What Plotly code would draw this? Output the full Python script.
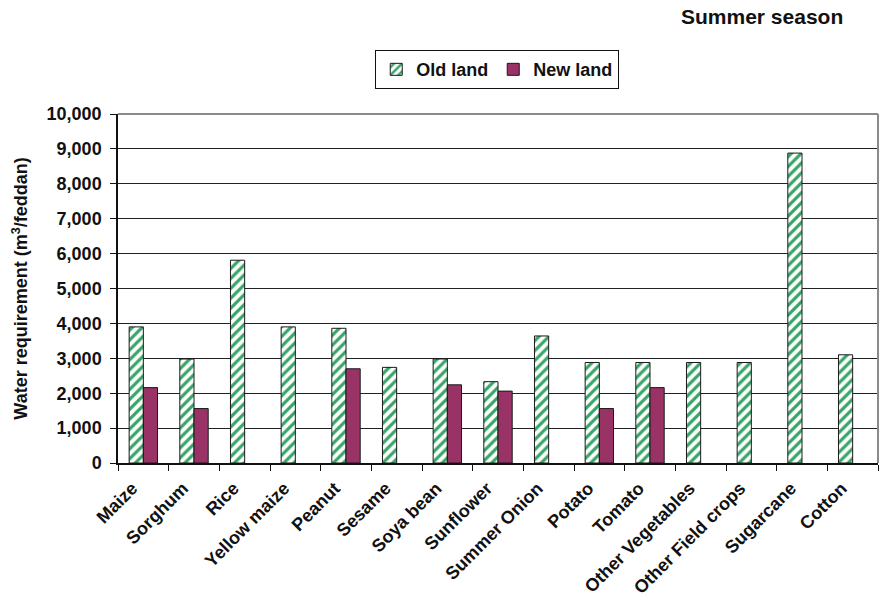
import plotly.graph_objects as go

crops = ["Maize", "Sorghum", "Rice", "Yellow maize", "Peanut", "Sesame", "Soya bean",
         "Sunflower", "Summer Onion", "Potato", "Tomato", "Other Vegetables",
         "Other Field crops", "Sugarcane", "Cotton"]
old_land = [3900, 2980, 5810, 3900, 3860, 2740, 2980, 2330, 3640, 2880, 2880, 2880,
            2880, 8880, 3100]
new_land = [2160, 1560, None, None, 2700, None, 2240, 2060, None, 1560, 2160, None,
            None, None, None]

FONT = "Liberation Sans, Arial, sans-serif"
INK = "#111"

fig = go.Figure()
fig.add_trace(go.Bar(
    x=crops, y=old_land, name="<b>Old land</b>",
    marker=dict(
        color="white",
        line=dict(color="#1a1a1a", width=1),
        pattern=dict(shape="/", fgcolor="#35a566", bgcolor="white",
                     size=7, solidity=0.45, fillmode="replace"),
    ),
))
fig.add_trace(go.Bar(
    x=crops, y=new_land, name="<b>New land</b>",
    marker=dict(color="#993366", line=dict(color="#1a1a1a", width=1)),
))

fig.update_layout(
    width=880, height=604,
    margin=dict(l=118, r=2, t=114, b=141),
    paper_bgcolor="white", plot_bgcolor="white",
    barmode="group", bargap=0.44, bargroupgap=0,
    font=dict(family=FONT, size=18, color=INK),
    showlegend=True,
    legend=dict(
        orientation="h", x=0.499, xanchor="center", y=1.183, yanchor="top",
        bordercolor=INK, borderwidth=1, bgcolor="white",
        font=dict(family=FONT, size=18, color=INK),
        itemwidth=30, traceorder="normal",
    ),
    annotations=[dict(
        text="<b>Summer season</b>", xref="paper", yref="paper",
        x=0.848, y=1.278, xanchor="center", yanchor="middle", showarrow=False,
        font=dict(family=FONT, size=21, color=INK),
    )],
    shapes=[
        dict(type="line", xref="paper", yref="paper", x0=0, x1=1, y0=1, y1=1,
             line=dict(color="#8a8a8a", width=2)),
        dict(type="line", xref="paper", yref="paper", x0=1, x1=1, y0=0, y1=1,
             line=dict(color="#8a8a8a", width=2)),
    ],
)

fig.update_xaxes(
    type="category", tickangle=-45, tickson="boundaries",
    ticks="outside", ticklen=6, tickcolor=INK, tickwidth=1,
    showline=True, linecolor=INK, linewidth=1.5,
    showgrid=False,
    tickfont=dict(family=FONT, size=18, color=INK),
    tickprefix="<b>", ticksuffix="</b>",
    ticklabelstandoff=6, ticklabelshift=-11,
)
fig.update_yaxes(
    range=[0, 10000], dtick=1000, tickformat=",",
    ticks="outside", ticklen=6, tickcolor=INK, tickwidth=1,
    showline=True, linecolor=INK, linewidth=1.5,
    showgrid=True, gridcolor="#222", gridwidth=1,
    zeroline=False,
    tickfont=dict(family=FONT, size=18, color=INK),
    tickprefix="<b>", ticksuffix="</b>",
    ticklabelstandoff=5,
    title=dict(text="<b>Water requirement (m<sup>3</sup>/feddan)</b>",
               font=dict(family=FONT, size=18, color=INK), standoff=14),
)

fig.write_html("out.html")
